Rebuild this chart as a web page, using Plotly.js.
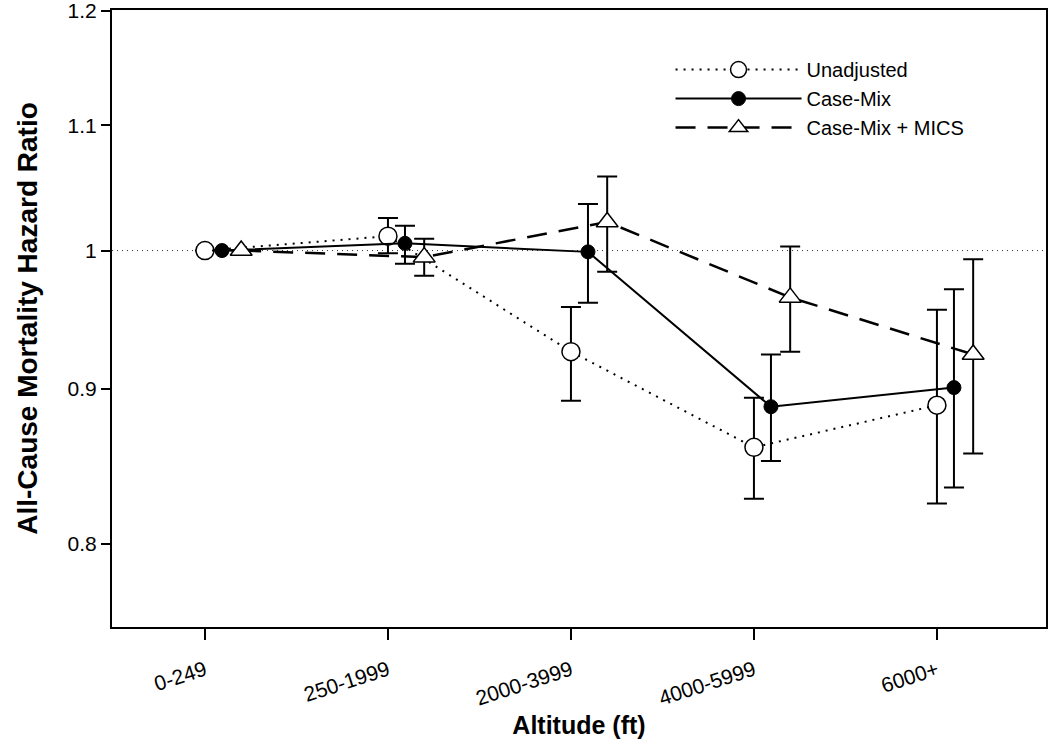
<!DOCTYPE html>
<html>
<head>
<meta charset="utf-8">
<script src="https://cdn.plot.ly/plotly-3.0.1.min.js"></script>
<style>html,body{margin:0;padding:0;background:#fff;}#chart{width:1050px;height:746px;}</style>
</head>
<body>
<div id="chart"></div>
<script>
// Data
const categories = ["0-249", "250-1999", "2000-3999", "4000-5999", "6000+"];
const seriesNames = ["Unadjusted", "Case-Mix", "Case-Mix + MICS"];

const unadjusted      = [1.000, 1.011, 0.926, 0.861, 0.889];
const unadjustedUpper = [null, 1.025, 0.958, 0.894, 0.956];
const unadjustedLower = [null, 0.998, 0.892, 0.828, 0.825];

const caseMix      = [1.000, 1.0055, 0.999, 0.888, 0.901];
const caseMixUpper = [null, 1.019, 1.036, 0.924, 0.971];
const caseMixLower = [null, 0.990, 0.961, 0.852, 0.835];

const mics      = [1.000, 0.995, 1.022, 0.965, 0.924];
const micsUpper = [null, 1.009, 1.058, 1.003, 0.9935];
const micsLower = [null, 0.981, 0.984, 0.926, 0.857];

const yTickVals = [0.8, 0.9, 1, 1.1, 1.2];
const yTickText = ["0.8", "0.9", "1", "1.1", "1.2"];

// x offsets of each series around its category (in category units)
const offsets = [0, 0.093, 0.198];

function xs(off) { return categories.map((c, i) => i + off); }
function errs(vals, up, lo) {
  return {
    plus: vals.map((v, i) => up[i] == null ? 0 : up[i] - v),
    minus: vals.map((v, i) => lo[i] == null ? 0 : v - lo[i])
  };
}

const eU = errs(unadjusted, unadjustedUpper, unadjustedLower);
const eC = errs(caseMix, caseMixUpper, caseMixLower);
const eM = errs(mics, micsUpper, micsLower);

function errObj(e) {
  return {type: 'data', symmetric: false, array: e.plus, arrayminus: e.minus,
          color: '#000', thickness: 2, width: 10};
}

const traces = [
  {
    x: xs(offsets[0]), y: unadjusted, name: seriesNames[0], type: 'scatter', mode: 'lines+markers',
    line: {color: '#000', width: 2, dash: '2px,6px'},
    marker: {symbol: 'circle', size: 18, color: '#fff', line: {color: '#000', width: 1.5}},
    error_y: errObj(eU)
  },
  {
    x: xs(offsets[1]), y: caseMix, name: seriesNames[1], type: 'scatter', mode: 'lines+markers',
    line: {color: '#000', width: 2},
    marker: {symbol: 'circle', size: 14, color: '#000', line: {color: '#000', width: 1}},
    error_y: errObj(eC)
  },
  {
    x: xs(offsets[2]), y: mics, name: seriesNames[2], type: 'scatter', mode: 'lines+markers',
    line: {color: '#000', width: 2.5, dash: '20px,12px'},
    marker: {symbol: 'triangle-up', size: 19, color: '#fff', line: {color: '#000', width: 1.5}},
    error_y: errObj(eM)
  }
];

const layout = {
  width: 1050, height: 746,
  margin: {l: 112, r: 4, t: 10, b: 119},
  paper_bgcolor: '#fff', plot_bgcolor: '#fff',
  font: {family: 'Liberation Sans, Arial, sans-serif', color: '#000'},
  showlegend: true,
  legend: {
    x: 0.598, y: 0.935, xanchor: 'left', yanchor: 'top',
    bgcolor: 'rgba(0,0,0,0)', font: {size: 20, color: '#000'},
    tracegroupgap: 0, itemwidth: 126
  },
  xaxis: {
    range: [-0.508, 4.596],
    tickmode: 'array', tickvals: categories.map((c, i) => i), ticktext: categories,
    tickangle: -18, tickfont: {size: 21},
    ticks: 'outside', ticklen: 11, tickwidth: 2, tickcolor: '#000',
    ticklabelstandoff: 10,
    showline: true, linecolor: '#000', linewidth: 2, mirror: true,
    showgrid: false, zeroline: false,
    title: {text: '<b>Altitude (ft)</b>', font: {size: 25}, standoff: 8}
  },
  yaxis: {
    type: 'log',
    range: [Math.log10(0.751), Math.log10(1.2008)],
    tickmode: 'array', tickvals: yTickVals, ticktext: yTickText,
    tickfont: {size: 21}, ticklabeloverflow: 'allow',
    ticks: 'outside', ticklen: 9, tickwidth: 2, tickcolor: '#000',
    showline: true, linecolor: '#000', linewidth: 2, mirror: true,
    showgrid: false, zeroline: false,
    title: {text: '<b>All-Cause Mortality Hazard Ratio</b>', font: {size: 28}, standoff: 22}
  },
  shapes: [
    {type: 'line', xref: 'paper', x0: 0, x1: 1, yref: 'y', y0: 1, y1: 1,
     line: {color: '#333', width: 1, dash: '1px,4px'}, layer: 'below'}
  ]
};

Plotly.newPlot('chart', traces, layout, {displayModeBar: false, staticPlot: true});
</script>
</body>
</html>
